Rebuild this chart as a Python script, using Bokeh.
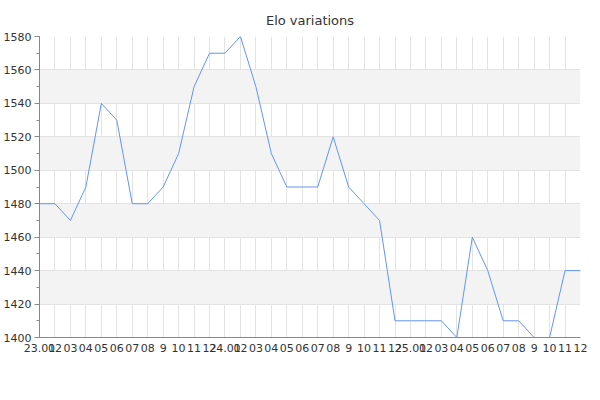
from bokeh.plotting import figure
from bokeh.models import FixedTicker, SingleIntervalTicker, Range1d
from bokeh.embed import file_html
from bokeh.resources import INLINE

months = ["23.01", "02", "03", "04", "05", "06", "07", "08", "9", "10", "11", "12",
          "24.01", "02", "03", "04", "05", "06", "07", "08", "9", "10", "11", "12",
          "25.01", "02", "03", "04", "05", "06", "07", "08", "9", "10", "11", "12"]
elo = [1480, 1480, 1470, 1490, 1540, 1530, 1480, 1480, 1490, 1510, 1550, 1570,
       1570, 1580, 1550, 1510, 1490, 1490, 1490, 1520, 1490, 1480, 1470, 1410,
       1410, 1410, 1410, 1400, 1460, 1440, 1410, 1410, 1400, 1400, 1440, 1440]
idx = list(range(len(elo)))

p = figure(width=592, height=390, output_backend="svg", toolbar_location=None,
           title="Elo variations",
           x_range=Range1d(0, len(elo) - 1), y_range=Range1d(1400, 1580),
           min_border_left=32, min_border_right=12, min_border_bottom=53, min_border_top=36)

p.title.align = "center"
p.title.vertical_align = "bottom"
p.title.text_font = "DejaVu Sans"
p.title.text_font_size = "13px"
p.title.text_font_style = "normal"
p.title.text_color = "#333333"
p.title.offset = 0
p.title.standoff = 18

p.line(idx, elo, line_color="#6495ed", line_width=1)

p.outline_line_color = None
p.background_fill_color = "white"

p.xaxis.ticker = FixedTicker(ticks=idx)
p.xaxis.major_label_overrides = {i: m for i, m in enumerate(months)}
p.yaxis.ticker = SingleIntervalTicker(interval=20, num_minor_ticks=2)

for ax in (p.xaxis, p.yaxis):
    ax.axis_line_color = "#888888"
    ax.major_label_text_font = "DejaVu Sans"
    ax.major_label_text_font_size = "11px"
    ax.major_label_text_color = "#333333"
    ax.major_tick_in = 0
    ax.minor_tick_in = 0
    ax.major_tick_line_color = "#888888"
    ax.minor_tick_line_color = "#888888"

p.xaxis.major_tick_out = 0
p.xaxis.minor_tick_line_color = None
p.xaxis.major_label_standoff = 6
p.yaxis.major_tick_out = 5
p.yaxis.minor_tick_out = 3
p.yaxis.major_label_standoff = 3

p.xgrid.grid_line_color = "#e3e3e3"
p.ygrid.grid_line_color = "#e3e3e3"
p.ygrid.band_fill_color = "#f3f3f3"
p.ygrid.band_fill_alpha = 1.0

open("out.html", "w").write(file_html(p, INLINE))
